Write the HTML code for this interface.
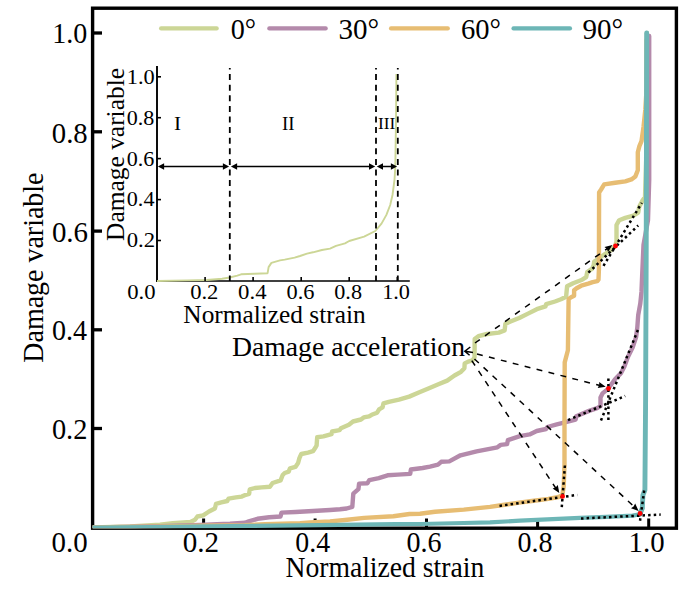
<!DOCTYPE html>
<html><head><meta charset="utf-8"><style>
html,body{margin:0;padding:0;background:#fff;overflow:hidden;width:685px;height:596px;}
svg{display:block;}
text{font-family:"Liberation Serif",serif;fill:#000;}
</style></head><body>
<svg width="685" height="596" viewBox="0 0 685 596">
<rect x="92.6" y="8.2" width="583.8" height="520" fill="none" stroke="#000" stroke-width="3.4"/>
<line x1="94" y1="33" x2="102" y2="33" stroke="#000" stroke-width="3.3"/>
<line x1="94" y1="131.8" x2="102" y2="131.8" stroke="#000" stroke-width="3.3"/>
<line x1="94" y1="231.1" x2="102" y2="231.1" stroke="#000" stroke-width="3.3"/>
<line x1="94" y1="329.8" x2="102" y2="329.8" stroke="#000" stroke-width="3.3"/>
<line x1="94" y1="428.5" x2="102" y2="428.5" stroke="#000" stroke-width="3.3"/>
<line x1="203.6" y1="527" x2="203.6" y2="518.5" stroke="#000" stroke-width="3"/>
<line x1="315.1" y1="527" x2="315.1" y2="518.5" stroke="#000" stroke-width="3"/>
<line x1="426.5" y1="527" x2="426.5" y2="518.5" stroke="#000" stroke-width="3"/>
<line x1="537.6" y1="527" x2="537.6" y2="518.5" stroke="#000" stroke-width="3"/>
<line x1="648.7" y1="527" x2="648.7" y2="518.5" stroke="#000" stroke-width="3"/>
<defs><clipPath id="pc"><rect x="92.6" y="0" width="583.8" height="528.2"/></clipPath></defs><g clip-path="url(#pc)">
<polyline points="93.0,527.5 130.0,526.5 160.0,524.8 172.8,523.3 190.4,521.9 195.0,519.8 197.4,516.5 203.2,515.3 209.0,511.5 214.9,508.5 216.0,503.9 221.3,502.4 227.2,501.0 228.6,498.7 235.9,497.4 241.8,496.6 244.7,495.2 249.1,493.8 249.8,489.4 254.9,488.0 261.8,487.4 269.9,486.8 272.6,483.0 280.6,480.4 282.7,475.0 284.7,473.0 288.7,471.6 290.0,468.3 295.4,466.9 298.1,463.0 299.4,458.2 301.3,454.0 308.0,452.6 313.0,451.2 315.5,447.5 316.6,445.5 317.2,437.2 323.4,436.4 331.5,434.2 332.1,431.5 339.5,430.2 340.9,428.2 348.9,424.8 353.0,421.5 361.0,419.5 363.7,417.4 369.1,416.4 371.7,414.8 377.1,412.7 379.1,409.4 382.5,407.4 383.5,403.4 388.8,401.8 399.0,399.6 409.2,396.6 419.4,392.3 429.6,387.9 438.4,384.3 447.2,380.6 454.5,375.5 461.0,371.8 464.4,368.2 464.7,363.4 468.2,361.6 472.6,360.3 474.5,357.5 474.7,339.1 478.4,336.2 487.1,334.0 498.8,332.6 504.6,330.4 505.4,323.8 510.5,321.6 519.2,318.0 528.0,313.6 536.8,309.2 545.5,306.3 546.2,304.1 555.0,301.5 561.0,299.3 566.1,296.8 567.1,286.2 573.1,283.2 582.2,279.7 586.2,277.2 587.2,272.1 592.2,268.6 593.7,265.1 594.2,261.6 597.3,259.6 602.3,256.0 605.0,254.0 610.7,250.4 615.1,246.1 616.5,241.5 616.5,225.0 619.2,220.2 625.3,217.9 633.4,215.7 638.2,212.7 639.2,206.8 642.5,200.6 645.0,197.0 646.5,150.0 646.8,33.0" fill="none" stroke="#ccd696" stroke-width="4.4" stroke-linejoin="round" stroke-linecap="round"/>
<polyline points="93.0,527.5 125.0,527.0 160.0,526.2 200.0,524.9 217.0,524.3 230.0,523.8 245.0,522.8 248.8,521.4 257.5,518.8 269.2,517.2 280.5,516.5 281.5,512.6 295.5,512.0 313.0,511.0 330.0,510.0 340.0,509.3 346.7,508.5 352.3,506.8 353.3,493.6 358.4,489.2 359.1,483.6 367.5,483.2 369.3,480.2 378.8,478.2 387.6,475.3 397.8,474.6 410.2,473.9 410.9,469.5 422.6,468.0 430.0,466.6 438.0,464.6 441.2,461.8 449.3,461.4 460.5,455.3 476.6,451.3 497.4,447.3 500.7,444.9 507.1,444.1 507.9,440.1 519.9,436.1 529.6,434.4 536.7,431.0 546.1,429.0 547.4,427.0 556.8,424.3 564.9,422.3 575.6,419.6 576.3,416.2 581.0,414.2 589.1,410.9 597.1,408.2 600.5,406.2 600.5,397.4 602.5,393.4 606.5,390.1 608.5,388.3 615.0,379.3 620.8,373.4 624.4,366.4 627.9,357.0 632.6,347.6 636.1,337.0 637.3,327.6 638.2,315.2 640.3,303.5 641.5,291.7 642.3,272.0 643.5,245.0 648.0,220.0 649.2,180.0 649.2,36.0" fill="none" stroke="#b48aab" stroke-width="4.4" stroke-linejoin="round" stroke-linecap="round"/>
<polyline points="93.0,527.5 150.0,526.6 200.0,525.8 245.0,525.2 265.0,524.1 300.0,523.1 310.0,522.5 330.0,521.4 345.0,520.0 364.2,517.9 393.4,516.2 409.5,514.0 420.0,513.7 435.0,511.8 463.8,509.6 490.0,506.9 504.6,504.7 519.2,502.6 533.8,500.8 548.4,498.9 558.6,497.0 562.3,495.3 563.7,486.5 564.5,464.6 564.5,420.0 564.7,362.4 567.9,350.3 568.6,300.0 569.0,298.8 571.1,297.3 574.1,295.8 574.1,290.2 576.6,288.2 581.2,285.7 588.2,283.7 592.7,282.2 597.3,281.2 598.5,279.7 598.9,270.0 599.1,192.5 601.1,189.5 604.2,184.4 615.2,182.8 625.3,181.4 631.4,179.4 635.4,176.4 637.8,170.3 637.8,152.2 639.4,146.1 641.5,141.1 642.5,134.0 643.5,127.0 645.3,110.0 646.4,92.0 646.6,40.0" fill="none" stroke="#e7bd73" stroke-width="4.4" stroke-linejoin="round" stroke-linecap="round"/>
<polyline points="93.0,527.6 150.0,527.0 250.0,525.9 320.0,525.2 396.0,524.2 420.0,524.0 463.8,523.0 490.0,522.3 520.0,520.7 580.0,517.8 606.3,516.8 632.6,515.6 639.8,514.3 642.3,508.3" fill="none" stroke="#6db6b6" stroke-width="4.2" stroke-linejoin="round" stroke-linecap="round"/>
<polyline points="639.8,514.3 642.3,508.3 642.9,495.2 644.9,490.0 645.6,400.0 646.2,250.0 646.7,33.0" fill="none" stroke="#6db6b6" stroke-width="4.9" stroke-linejoin="round" stroke-linecap="round"/>
</g>
<text x="52.30" y="43.1" font-size="29" textLength="35.00" lengthAdjust="spacingAndGlyphs">1.0</text>
<text x="51.81" y="142.5" font-size="29" textLength="35.93" lengthAdjust="spacingAndGlyphs">0.8</text>
<text x="51.90" y="241.5" font-size="29" textLength="36.14" lengthAdjust="spacingAndGlyphs">0.6</text>
<text x="51.93" y="340.3" font-size="29" textLength="35.11" lengthAdjust="spacingAndGlyphs">0.4</text>
<text x="51.92" y="438.8" font-size="29" textLength="35.50" lengthAdjust="spacingAndGlyphs">0.2</text>
<text x="51.60" y="552.2" font-size="29" textLength="36.14" lengthAdjust="spacingAndGlyphs">0.0</text>
<text x="182.80" y="552.4" font-size="29" textLength="36.36" lengthAdjust="spacingAndGlyphs">0.2</text>
<text x="295.34" y="552.4" font-size="29" textLength="34.80" lengthAdjust="spacingAndGlyphs">0.4</text>
<text x="406.43" y="552.4" font-size="29" textLength="35.08" lengthAdjust="spacingAndGlyphs">0.6</text>
<text x="517.43" y="552.4" font-size="29" textLength="35.08" lengthAdjust="spacingAndGlyphs">0.8</text>
<text x="628.62" y="552.4" font-size="29" textLength="36.02" lengthAdjust="spacingAndGlyphs">1.0</text>
<text x="285.43" y="577.0" font-size="28.6" textLength="198.80" lengthAdjust="spacingAndGlyphs">Normalized strain</text>
<text transform="translate(43.2,362.68) rotate(-90)" x="0" y="0" font-size="28.6" textLength="190.17" lengthAdjust="spacingAndGlyphs">Damage variable</text>
<text x="231.92" y="355.6" font-size="28.2" textLength="233.16" lengthAdjust="spacingAndGlyphs">Damage acceleration</text>
<line x1="161.1" y1="28.4" x2="216.7" y2="28.4" stroke="#ccd696" stroke-width="4.2" stroke-linecap="round"/>
<line x1="269.3" y1="28.4" x2="325.7" y2="28.4" stroke="#b48aab" stroke-width="4.2" stroke-linecap="round"/>
<line x1="391" y1="28.4" x2="447.8" y2="28.4" stroke="#e7bd73" stroke-width="4.2" stroke-linecap="round"/>
<line x1="513.5" y1="28.4" x2="570" y2="28.4" stroke="#6db6b6" stroke-width="4.2" stroke-linecap="round"/>
<text x="230.63" y="38.6" font-size="29" textLength="25.35" lengthAdjust="spacingAndGlyphs">0°</text>
<text x="338.40" y="38.6" font-size="29" textLength="40.61" lengthAdjust="spacingAndGlyphs">30°</text>
<text x="460.92" y="38.6" font-size="29" textLength="39.97" lengthAdjust="spacingAndGlyphs">60°</text>
<text x="582.60" y="38.6" font-size="29" textLength="40.61" lengthAdjust="spacingAndGlyphs">90°</text>
<line x1="157" y1="66" x2="157" y2="281.8" stroke="#000" stroke-width="1.9"/>
<line x1="156" y1="281" x2="409.8" y2="281" stroke="#000" stroke-width="1.7"/>
<polyline points="157.0,281.0 188.0,280.4 206.9,280.0 222.1,278.8 229.7,277.5 237.3,275.6 241.1,274.3 254.4,273.7 267.6,273.2 268.6,267.1 271.4,262.9 280.0,260.4 284.7,259.6 294.6,257.6 300.0,256.0 307.0,253.6 313.0,252.3 321.9,250.0 330.0,248.6 336.0,245.9 345.0,243.4 349.2,241.0 364.1,236.7 375.3,231.0 381.5,223.6 386.4,214.9 390.2,205.0 392.5,195.0 394.5,180.0 395.3,166.9 396.0,120.0 396.4,74.0" fill="none" stroke="#ccd696" stroke-width="1.9" stroke-linejoin="round"/>
<line x1="157" y1="240.5" x2="161" y2="240.5" stroke="#000" stroke-width="1.6"/>
<line x1="205.1" y1="281" x2="205.1" y2="277" stroke="#000" stroke-width="1.6"/>
<line x1="157" y1="199.6" x2="161" y2="199.6" stroke="#000" stroke-width="1.6"/>
<line x1="253.1" y1="281" x2="253.1" y2="277" stroke="#000" stroke-width="1.6"/>
<line x1="157" y1="158.6" x2="161" y2="158.6" stroke="#000" stroke-width="1.6"/>
<line x1="301.2" y1="281" x2="301.2" y2="277" stroke="#000" stroke-width="1.6"/>
<line x1="157" y1="117.7" x2="161" y2="117.7" stroke="#000" stroke-width="1.6"/>
<line x1="349.2" y1="281" x2="349.2" y2="277" stroke="#000" stroke-width="1.6"/>
<line x1="157" y1="76.8" x2="161" y2="76.8" stroke="#000" stroke-width="1.6"/>
<line x1="397.3" y1="281" x2="397.3" y2="277" stroke="#000" stroke-width="1.6"/>
<text x="126.85" y="83.9" font-size="22" textLength="27.96" lengthAdjust="spacingAndGlyphs">1.0</text>
<text x="126.80" y="124.9" font-size="22" textLength="27.61" lengthAdjust="spacingAndGlyphs">0.8</text>
<text x="126.80" y="165.5" font-size="22" textLength="27.61" lengthAdjust="spacingAndGlyphs">0.6</text>
<text x="126.79" y="206.1" font-size="22" textLength="27.71" lengthAdjust="spacingAndGlyphs">0.4</text>
<text x="126.77" y="247.4" font-size="22" textLength="28.38" lengthAdjust="spacingAndGlyphs">0.2</text>
<text x="127.17" y="298.8" font-size="22" textLength="28.35" lengthAdjust="spacingAndGlyphs">0.0</text>
<text x="190.17" y="298.8" font-size="22" textLength="28.27" lengthAdjust="spacingAndGlyphs">0.2</text>
<text x="238.07" y="298.8" font-size="22" textLength="28.45" lengthAdjust="spacingAndGlyphs">0.4</text>
<text x="286.58" y="298.8" font-size="22" textLength="27.92" lengthAdjust="spacingAndGlyphs">0.6</text>
<text x="334.29" y="298.8" font-size="22" textLength="27.71" lengthAdjust="spacingAndGlyphs">0.8</text>
<text x="382.16" y="298.8" font-size="22" textLength="27.84" lengthAdjust="spacingAndGlyphs">1.0</text>
<text x="183.39" y="322.9" font-size="25.2" textLength="182.27" lengthAdjust="spacingAndGlyphs">Normalized strain</text>
<text transform="translate(124.1,240.99) rotate(-90)" x="0" y="0" font-size="25.8" textLength="173.05" lengthAdjust="spacingAndGlyphs">Damage variable</text>
<line x1="229.8" y1="68" x2="229.8" y2="281" stroke="#000" stroke-width="1.8" stroke-dasharray="6 4.6" stroke-dashoffset="4.5"/>
<line x1="376" y1="68" x2="376" y2="281" stroke="#000" stroke-width="1.8" stroke-dasharray="6 4.6" stroke-dashoffset="4.5"/>
<line x1="397.8" y1="68" x2="397.8" y2="281" stroke="#000" stroke-width="1.8" stroke-dasharray="6 4.6" stroke-dashoffset="4.5"/>
<line x1="160.9" y1="166.5" x2="226.1" y2="166.5" stroke="#000" stroke-width="1.5"/>
<path d="M157.9,166.5 L164.1,163.3 L164.1,166.5 L164.1,169.7 Z" fill="#000"/>
<path d="M229.1,166.5 L222.9,169.7 L222.9,166.5 L222.9,163.3 Z" fill="#000"/>
<line x1="233.9" y1="166.5" x2="372.2" y2="166.5" stroke="#000" stroke-width="1.5"/>
<path d="M230.9,166.5 L237.1,163.3 L237.1,166.5 L237.1,169.7 Z" fill="#000"/>
<path d="M375.2,166.5 L369.0,169.7 L369.0,166.5 L369.0,163.3 Z" fill="#000"/>
<line x1="379.8" y1="166.5" x2="394.1" y2="166.5" stroke="#000" stroke-width="1.5"/>
<path d="M376.8,166.5 L383.0,163.3 L383.0,166.5 L383.0,169.7 Z" fill="#000"/>
<path d="M397.1,166.5 L390.9,169.7 L390.9,166.5 L390.9,163.3 Z" fill="#000"/>
<text x="174.02" y="129.6" font-size="18" textLength="7.05" lengthAdjust="spacingAndGlyphs">I</text>
<text x="282.05" y="129.6" font-size="18" textLength="12.60" lengthAdjust="spacingAndGlyphs">II</text>
<text x="378.01" y="129.3" font-size="17.5" textLength="17.27" lengthAdjust="spacingAndGlyphs">III</text>
<line x1="475" y1="343" x2="608" y2="248" stroke="#000" stroke-width="1.5" stroke-dasharray="5.9 6.4" fill="none"/>
<line x1="477" y1="354" x2="600" y2="385.5" stroke="#000" stroke-width="1.5" stroke-dasharray="5.9 6.4" fill="none"/>
<line x1="471.8" y1="360.6" x2="556" y2="488.5" stroke="#000" stroke-width="1.5" stroke-dasharray="5.9 6.4" fill="none"/>
<line x1="474.5" y1="359" x2="635" y2="507.5" stroke="#000" stroke-width="1.5" stroke-dasharray="5.9 6.4" fill="none"/>
<path d="M612.4,245.1 L608.1,252.0 L606.9,249.0 L604.5,246.9 Z" fill="#000"/>
<path d="M605.7,386.8 L597.7,388.0 L599.2,385.1 L599.2,381.9 Z" fill="#000"/>
<path d="M559.3,493.1 L552.6,488.5 L555.6,487.5 L557.8,485.1 Z" fill="#000"/>
<path d="M638.6,511.0 L631.0,508.2 L633.6,506.4 L635.2,503.6 Z" fill="#000"/>
<path d="M470.3,347 L464.8,351.2 L469.6,355.3 M464.8,351.2 L473,352.5" fill="none" stroke="#000" stroke-width="1.5"/>
<line x1="588.4" y1="272.6" x2="638.2" y2="225.5" stroke="#000" stroke-width="2.5" stroke-dasharray="2.5 3.1" fill="none"/>
<line x1="603.5" y1="265.8" x2="641.8" y2="202.8" stroke="#000" stroke-width="2.5" stroke-dasharray="2.5 3.1" fill="none"/>
<line x1="637.9" y1="330" x2="600" y2="422.8" stroke="#000" stroke-width="2.5" stroke-dasharray="2.5 3.1" fill="none"/>
<line x1="608.4" y1="378.4" x2="608.4" y2="423.3" stroke="#000" stroke-width="2.5" stroke-dasharray="2.5 3.1" fill="none"/>
<line x1="568" y1="420.1" x2="625.2" y2="396" stroke="#000" stroke-width="2.5" stroke-dasharray="2.5 3.1" fill="none"/>
<line x1="499.5" y1="505.9" x2="577.3" y2="494.9" stroke="#000" stroke-width="2.5" stroke-dasharray="2.5 3.1" fill="none"/>
<line x1="564.9" y1="465.5" x2="561.6" y2="509.4" stroke="#000" stroke-width="2.5" stroke-dasharray="2.5 3.1" fill="none"/>
<line x1="581" y1="518.5" x2="660.7" y2="514.6" stroke="#000" stroke-width="2.5" stroke-dasharray="2.5 3.1" fill="none"/>
<line x1="644.2" y1="490.5" x2="639.7" y2="523.1" stroke="#000" stroke-width="2.5" stroke-dasharray="2.5 3.1" fill="none"/>
<circle cx="615.5" cy="246" r="2.4" fill="#f00"/>
<circle cx="608.5" cy="388.5" r="2.4" fill="#f00"/>
<circle cx="562.6" cy="496.4" r="2.4" fill="#f00"/>
<circle cx="640.1" cy="513.5" r="2.4" fill="#f00"/>
</svg></body></html>
